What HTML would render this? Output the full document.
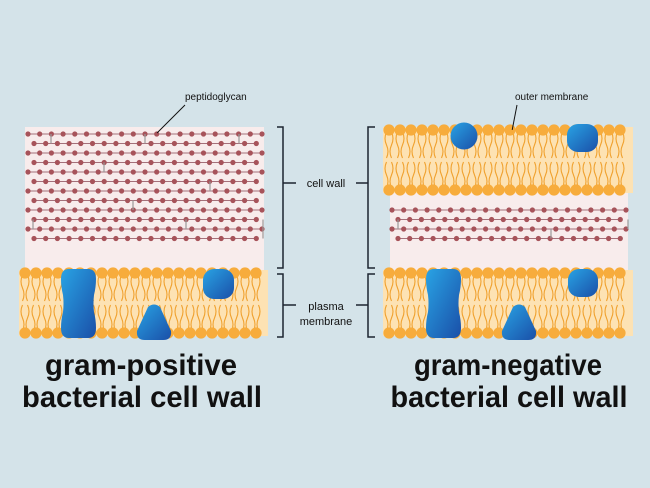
<!DOCTYPE html>
<html><head><meta charset="utf-8"><style>
html,body{margin:0;padding:0;background:#d4e3e9;}
svg{display:block}
text{font-family:"Liberation Sans",sans-serif}
</style></head><body>
<svg id="s" width="650" height="488" viewBox="0 0 650 488" xmlns="http://www.w3.org/2000/svg">
<defs>
<linearGradient id="bg1" x1="0" y1="0" x2="1" y2="1">
<stop offset="0" stop-color="#29a3e4"/><stop offset="1" stop-color="#1a4fa8"/></linearGradient>
</defs>
<rect width="650" height="488" fill="#d4e3e9"/>
<g id="g"></g>
<text x="185" y="100" font-size="10" fill="#111">peptidoglycan</text>
<line x1="185" y1="105" x2="157" y2="133" stroke="#111" stroke-width="1"/>
<text x="515" y="100" font-size="10" fill="#111">outer membrane</text>
<line x1="517" y1="105" x2="521" y2="130" stroke="#111" stroke-width="1" transform="rotate(20 517 105)"/>
<path d="M277 127H283V268H277M277 274H283V337H277M283 183H296M283 305H296" fill="none" stroke="#1c2430" stroke-width="1.5"/>
<path d="M375 127H368V268H375M375 274H368V337H375M368 183H356M368 305H356" fill="none" stroke="#1c2430" stroke-width="1.5"/>
<text x="326" y="187" font-size="11" text-anchor="middle" fill="#111">cell wall</text>
<text x="326" y="310" font-size="11" text-anchor="middle" fill="#111">plasma</text>
<text x="326" y="325" font-size="11" text-anchor="middle" fill="#111">membrane</text>
<text x="141" y="375" font-size="30" font-weight="bold" text-anchor="middle" fill="#111" textLength="192" lengthAdjust="spacingAndGlyphs">gram-positive</text>
<text x="142" y="407" font-size="30" font-weight="bold" text-anchor="middle" fill="#111" textLength="240" lengthAdjust="spacingAndGlyphs">bacterial cell wall</text>
<text x="508" y="375" font-size="30" font-weight="bold" text-anchor="middle" fill="#111" textLength="188" lengthAdjust="spacingAndGlyphs">gram-negative</text>
<text x="509" y="407" font-size="30" font-weight="bold" text-anchor="middle" fill="#111" textLength="237" lengthAdjust="spacingAndGlyphs">bacterial cell wall</text>
</svg>
<script>
var g=document.getElementById('g');var h='';
function mem(x0,x1,yt,yb){
 h+='<rect x="'+x0+'" y="'+yt+'" width="'+(x1-x0)+'" height="'+(yb-yt)+'" fill="#fde2b3"/>';
 var mid=(yt+yb)/2;
 for(var x=x0+6;x<=x1-4;x+=11){
  [[yt+5,mid-2],[mid+2,yb-5]].forEach(function(r){
   [-2.5,2.5].forEach(function(d){
    var a=r[0],b=r[1],m=(a+b)/2;
    h+='<path d="M'+(x+d)+' '+a+'Q'+(x+d*2.2)+' '+((a+m)/2)+' '+(x+d)+' '+m+'T'+(x+d)+' '+b+'" fill="none" stroke="#f0a12e" stroke-width="1.1"/>';
   });
  });
  h+='<circle cx="'+x+'" cy="'+(yt+3)+'" r="5.6" fill="#f7ac3c"/>';
  h+='<circle cx="'+x+'" cy="'+(yb-3)+'" r="5.6" fill="#f7ac3c"/>';
 }
}
function pep(x0,x1,y0,n,cross){
 for(var i=0;i<n;i++){
  var y=y0+i*9.5, off=(i%2)?6:0;
  h+='<line x1="'+(x0+off)+'" y1="'+y+'" x2="'+(x1-(i%2?6:0))+'" y2="'+y+'" stroke="#a4707a" stroke-width="1"/>';
  for(var x=x0+off;x<=x1;x+=11.7) h+='<circle cx="'+x+'" cy="'+y+'" r="2.6" fill="#a7535a"/>';
 }
 cross.forEach(function(c){h+='<line x1="'+c[0]+'" y1="'+(y0+c[1]*9.5)+'" x2="'+c[0]+'" y2="'+(y0+(c[1]+1)*9.5)+'" stroke="#9a9a9a" stroke-width="1.2"/>';});
}
h+='<rect x="25" y="127" width="239" height="145" fill="#f8ecec"/>';
pep(28,263,134,12,[[51,0],[145,0],[239,0],[104,3],[210,5],[133,7],[33,9],[186,9],[263,9],[263,10]]);
mem(19,268,270,336);
h+='<rect x="390" y="190" width="238" height="82" fill="#f8ecec"/>';
pep(392,628,210,4,[[398,1],[551,2],[628,1]]);
mem(383,633,127,193);
mem(383,633,270,336);
function hg(x,y,w,hh){h+='<path d="M'+(x+8)+' '+y+'H'+(x+w-8)+'Q'+(x+w)+' '+y+' '+(x+w)+' '+(y+10)+'Q'+(x+w)+' '+(y+18)+' '+(x+w-2)+' '+(y+26)+'Q'+(x+w-3)+' '+(y+hh/2)+' '+(x+w-2)+' '+(y+hh-26)+'Q'+(x+w)+' '+(y+hh-18)+' '+(x+w)+' '+(y+hh-10)+'Q'+(x+w)+' '+(y+hh)+' '+(x+w-8)+' '+(y+hh)+'H'+(x+8)+'Q'+x+' '+(y+hh)+' '+x+' '+(y+hh-10)+'Q'+x+' '+(y+hh-18)+' '+(x+2)+' '+(y+hh-26)+'Q'+(x+3)+' '+(y+hh/2)+' '+(x+2)+' '+(y+26)+'Q'+x+' '+(y+18)+' '+x+' '+(y+10)+'Q'+x+' '+y+' '+(x+8)+' '+y+'Z" fill="url(#bg1)"/>';}
function tri(x,y,w,hh){h+='<path d="M'+(x+w/2-6)+' '+(y+2)+'Q'+(x+w/2)+' '+(y-3)+' '+(x+w/2+6)+' '+(y+2)+'L'+(x+w)+' '+(y+hh-9)+'Q'+(x+w+1)+' '+(y+hh)+' '+(x+w-8)+' '+(y+hh)+'H'+(x+8)+'Q'+(x-1)+' '+(y+hh)+' '+x+' '+(y+hh-9)+'Z" fill="url(#bg1)"/>';}
function blob(x,y,w,hh){h+='<rect x="'+x+'" y="'+y+'" width="'+w+'" height="'+hh+'" rx="11" fill="url(#bg1)"/>';}
hg(61,269,35,69);tri(137,305,34,35);blob(203,269,31,30);
hg(426,269,35,69);tri(502,305,34,35);blob(568,269,30,28);
h+='<circle cx="464" cy="136" r="13.5" fill="url(#bg1)"/>';blob(567,124,31,28);
g.innerHTML=h;
</script>
</body></html>
